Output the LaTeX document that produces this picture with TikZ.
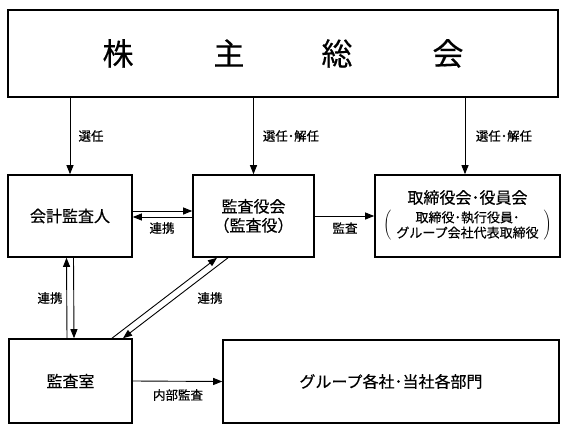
\documentclass[tikz,border=0pt]{standalone}
\usepackage{fontspec}
\setmainfont{Noto Sans CJK JP}[FakeBold=0.35]
\usetikzlibrary{arrows.meta}
\tikzset{
  box/.style={draw, line width=1.6pt, rectangle, inner sep=0pt, font=\fontsize{16}{19}\selectfont, align=center},
  arr/.style={line width=0.9pt, -{Triangle[length=9pt,width=7pt]}},
  lbl/.style={font=\fontsize{12.5}{14}\selectfont, inner sep=0pt}
}
\begin{document}
\begin{tikzpicture}[x=1pt,y=-1pt]
\useasboundingbox (0,0) rectangle (568,431);
% nodes
\node[box, line width=2.4pt, minimum width=550, minimum height=87, font=\fontsize{31}{34}\selectfont] (kabu) at (283,53.5)
  {株\hspace{80pt}主\hspace{77pt}総\hspace{80pt}会};
\node[box, minimum width=124, minimum height=82] (kaikei) at (70,216) {会計監査人};
\node[box, minimum width=121, minimum height=82] (kansa) at (253.5,216) {監査役会\\（監査役）};
\node[box, minimum width=185, minimum height=82] (tori) at (467.5,216)
  {\begin{tabular}{@{}c@{}}取締役会･役員会\\[1pt]
   $\left(\fontsize{13}{14.5}\selectfont\begin{tabular}{@{\hspace{5pt}}c@{\hspace{5pt}}}取締役･執行役員･\\グループ会社代表取締役\end{tabular}\right)$\end{tabular}};
\node[box, minimum width=123, minimum height=84] (shitsu) at (70.5,381) {監査室};
\node[box, minimum width=336, minimum height=83] (group) at (391,381.5) {グループ各社･当社各部門};
% arrows from shareholders meeting
\draw[arr] (kabu.south -| kaikei.north) -- (kaikei.north);
\draw[arr] (kabu.south -| kansa.north) -- (kansa.north);
\draw[arr] ([xshift=-2.5pt]kabu.south -| tori.north) -- ([xshift=-2.5pt]tori.north);
\node[lbl] (l1) at (91,136) {選任};
\node[lbl] (l2) at (291,136) {選任･解任};
\node[lbl] (l3) at (504,136) {選任･解任};
% kaikei <-> kansa
\draw[arr] ([yshift=5pt]kaikei.east) -- ([yshift=5pt]kaikei.east -| kansa.west);
\draw[arr] ([yshift=-1pt]kaikei.east -| kansa.west) -- ([yshift=-1pt]kaikei.east);
\node[lbl] (l4) at (162,228) {連携};
% kansa -> tori
\draw[arr] (kansa.east) -- (tori.west);
\node[lbl] (l5) at (345,228) {監査};
% kaikei <-> shitsu
\draw[arr] ([xshift=-3.5pt]shitsu.north) -- ([xshift=-3.5pt]kaikei.south);
\draw[arr] ([xshift=3.5pt]kaikei.south) -- ([xshift=3.5pt]shitsu.north);
\node[lbl] (l6) at (50,298) {連携};
% diagonal shitsu <-> kansa
\draw[arr] ([xshift=41.5pt]shitsu.north) -- ([xshift=-36.5pt]kansa.south);
\draw[arr] ([xshift=-25.5pt]kansa.south) -- ([xshift=52.5pt]shitsu.north);
\node[lbl] (l7) at (210,298) {連携};
% shitsu -> group
\draw[arr] (shitsu.east) -- (group.west);
\node[lbl] (l8) at (178,395) {内部監査};
\end{tikzpicture}
\end{document}
